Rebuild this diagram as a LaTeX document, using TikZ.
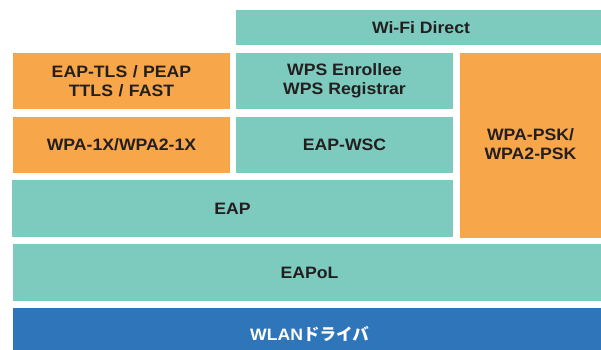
\documentclass[tikz,border=0pt]{standalone}
\usepackage{fontspec}
\setmainfont{Liberation Sans}[FakeStretch=1.07]
\newfontfamily\jpfont{Noto Sans CJK JP}
\definecolor{tealbox}{HTML}{7CCBBE}
\definecolor{orangebox}{HTML}{F8A64A}
\definecolor{bluebox}{HTML}{2E75BA}
\definecolor{textdark}{HTML}{231F20}
\begin{document}
\begin{tikzpicture}[x=1pt,y=-1pt,
  layer/.style={anchor=north west, inner sep=0pt, outer sep=0pt, draw=none,
    font=\fontsize{16.5}{19.5}\selectfont\bfseries, text=textdark, align=center},
  tealb/.style={layer, fill=tealbox},
  orangeb/.style={layer, fill=orangebox},
  blueb/.style={layer, fill=bluebox, text=white}]
\useasboundingbox (0,0) rectangle (601,349);
\clip (0,0) rectangle (601,349);
\fill[white] (0,0) rectangle (601,349);
\node[tealb, minimum width=370pt, minimum height=35pt] (wifi) at (236,10) {Wi-Fi Direct};
\node[orangeb, minimum width=217pt, minimum height=56pt] (eaptls) at (13,53) {EAP-TLS\,\,/\,\,PEAP\\TTLS\,\,/\,\,FAST};
\node[tealb, minimum width=217pt, minimum height=56pt] (wps) at (236,53) {WPS Enrollee\\WPS Registrar};
\node[orangeb, minimum width=146pt, minimum height=185pt] (psk) at (460,53) {};
\node[textdark, font=\fontsize{16.5}{19.5}\selectfont\bfseries, align=center] (psktext) at (530.5,144) {WPA-PSK/\\WPA2-PSK};
\node[orangeb, minimum width=217pt, minimum height=56pt] (wpa1x) at (13,117) {WPA-1X/WPA2-1X};
\node[tealb, minimum width=217pt, minimum height=56pt] (eapwsc) at (236,117) {EAP-WSC};
\node[tealb, minimum width=441pt, minimum height=57pt] (eap) at (12,180) {EAP};
\node[tealb, minimum width=593pt, minimum height=57pt] (eapol) at (13,244) {EAPoL};
\node[blueb, minimum width=593pt, minimum height=52pt] (wlan) at (13,308) {WLAN{\jpfont\bfseries ドライバ}};
\end{tikzpicture}
\end{document}
